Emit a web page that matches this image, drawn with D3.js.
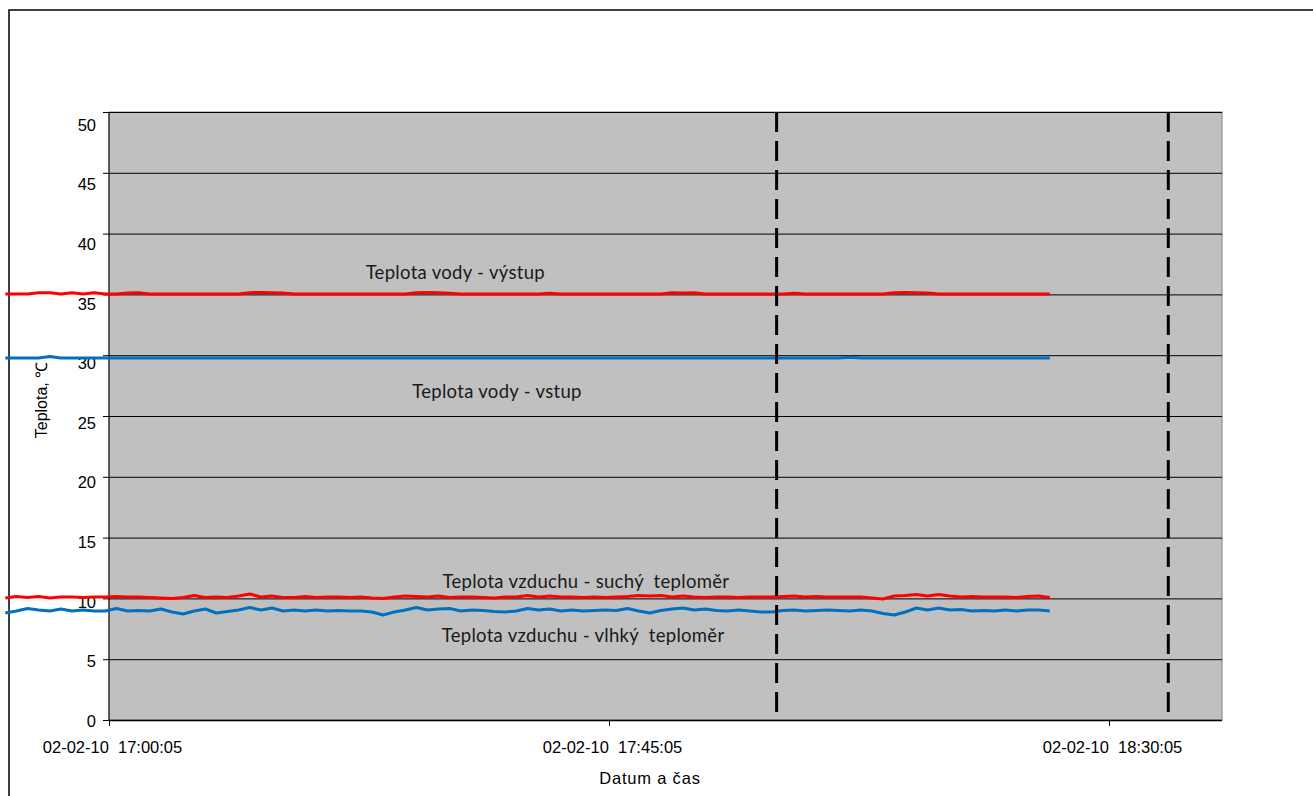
<!DOCTYPE html>
<html>
<head>
<meta charset="utf-8">
<script src="https://cdn.jsdelivr.net/npm/d3@7"></script>
<style>
  html, body { margin: 0; padding: 0; background: #fff; }
  svg { display: block; }
  .axis text { font-family: "Liberation Sans", Arial, sans-serif; fill: #000; }
  .note { font-family: Lato, "Open Sans", sans-serif; fill: #1a1a1a; }
</style>
</head>
<body>
<svg id="chart" width="1313" height="796"></svg>
<script>
// Measurement series, one sample per minute starting 02-02-10 16:50:45
const startTime = "2010-02-02T16:50:45";
const stepMinutes = 1;

// Teplota vody - výstup (°C)
const waterOut = [
  35.03, 35.03, 35.03, 35.14, 35.14, 35.03, 35.14, 35.03, 35.14, 35.03,
  35.03, 35.12, 35.14, 35.03, 35.03, 35.03, 35.03, 35.03, 35.03, 35.03,
  35.03, 35.03, 35.14, 35.16, 35.14, 35.12, 35.03, 35.03, 35.03, 35.03,
  35.03, 35.03, 35.03, 35.03, 35.03, 35.03, 35.03, 35.14, 35.16, 35.14,
  35.10, 35.03, 35.03, 35.03, 35.03, 35.03, 35.03, 35.03, 35.03, 35.10,
  35.03, 35.03, 35.03, 35.03, 35.03, 35.03, 35.03, 35.03, 35.03, 35.03,
  35.14, 35.12, 35.14, 35.03, 35.03, 35.03, 35.03, 35.03, 35.03, 35.03,
  35.03, 35.10, 35.03, 35.03, 35.03, 35.03, 35.03, 35.03, 35.03, 35.03,
  35.14, 35.16, 35.14, 35.12, 35.03, 35.03, 35.03, 35.03, 35.03, 35.03,
  35.03, 35.03, 35.03, 35.03, 35.03
];

// Teplota vody - vstup (°C)
const waterIn = [
  29.77, 29.77, 29.77, 29.77, 29.90, 29.77, 29.77, 29.77, 29.77, 29.77,
  29.77, 29.77, 29.77, 29.77, 29.77, 29.77, 29.77, 29.77, 29.77, 29.77,
  29.77, 29.77, 29.77, 29.77, 29.77, 29.77, 29.77, 29.77, 29.77, 29.77,
  29.77, 29.77, 29.77, 29.77, 29.77, 29.77, 29.77, 29.77, 29.77, 29.77,
  29.77, 29.77, 29.77, 29.77, 29.77, 29.77, 29.77, 29.77, 29.77, 29.77,
  29.77, 29.77, 29.77, 29.77, 29.77, 29.77, 29.77, 29.77, 29.77, 29.77,
  29.77, 29.77, 29.77, 29.77, 29.77, 29.77, 29.77, 29.77, 29.77, 29.77,
  29.77, 29.77, 29.77, 29.77, 29.77, 29.77, 29.83, 29.77, 29.77, 29.77,
  29.77, 29.77, 29.77, 29.77, 29.77, 29.77, 29.77, 29.77, 29.77, 29.77,
  29.77, 29.77, 29.77, 29.77, 29.77
];

// Teplota vzduchu - suchý teploměr (°C)
const airDry = [
  10.03, 10.16, 10.07, 10.16, 10.03, 10.12, 10.12, 10.07, 10.12, 10.12,
  10.16, 10.12, 10.12, 10.07, 10.03,  9.99, 10.07, 10.24, 10.07, 10.12,
  10.07, 10.20, 10.36, 10.12, 10.20, 10.07, 10.07, 10.16, 10.07, 10.12,
  10.12, 10.07, 10.12, 10.03,  9.99, 10.12, 10.20, 10.16, 10.12, 10.20,
  10.07, 10.12, 10.12, 10.07, 10.03, 10.12, 10.12, 10.24, 10.12, 10.20,
  10.12, 10.12, 10.07, 10.12, 10.07, 10.12, 10.16, 10.24, 10.20, 10.24,
  10.12, 10.20, 10.12, 10.07, 10.12, 10.12, 10.07, 10.12, 10.12, 10.12,
  10.16, 10.20, 10.12, 10.16, 10.12, 10.12, 10.12, 10.12, 10.03,  9.95,
  10.20, 10.24, 10.32, 10.20, 10.32, 10.20, 10.12, 10.16, 10.12, 10.12,
  10.12, 10.07, 10.16, 10.20, 10.07
];

// Teplota vzduchu - vlhký teploměr (°C)
const airWet = [
  8.80, 8.96, 9.17, 9.05, 8.96, 9.13, 8.96, 9.05, 8.96, 8.96,
  9.17, 8.96, 9.00, 8.96, 9.13, 8.88, 8.72, 8.96, 9.13, 8.80,
  8.92, 9.05, 9.25, 9.05, 9.21, 8.96, 9.05, 8.96, 9.05, 8.96,
  9.00, 8.96, 8.96, 8.88, 8.63, 8.88, 9.05, 9.25, 9.05, 9.13,
  9.17, 8.96, 9.05, 9.00, 8.92, 8.88, 8.96, 9.17, 9.05, 9.13,
  8.96, 9.05, 8.96, 9.00, 9.05, 9.00, 9.17, 8.96, 8.80, 9.00,
  9.13, 9.21, 9.05, 9.13, 9.00, 8.96, 9.05, 8.96, 8.88, 8.88,
  9.00, 9.05, 8.96, 9.00, 9.05, 9.00, 8.96, 9.05, 8.96, 8.76,
  8.63, 8.88, 9.21, 9.05, 9.21, 9.05, 9.09, 8.96, 9.00, 8.96,
  9.05, 8.96, 9.05, 9.05, 8.96
];

const seriesNames = [
  "Teplota vody - výstup",
  "Teplota vody - vstup",
  "Teplota vzduchu - suchý  teploměr",
  "Teplota vzduchu - vlhký  teploměr"
];
const seriesColors = ["#ff0000", "#0070c0", "#ff0000", "#0070c0"];

// Axis definitions
const xDomain = ["2010-02-02T17:00:05", "2010-02-02T18:40:15"];
const xTickTimes = ["2010-02-02T17:00:05", "2010-02-02T17:45:05", "2010-02-02T18:30:05"];
const yTicks = [0, 5, 10, 15, 20, 25, 30, 35, 40, 45, 50];
const markerTimes = ["2010-02-02T18:00:10", "2010-02-02T18:35:25"];

// Label anchors: [time, temperature]
const noteAnchors = [
  ["2010-02-02T17:31:15", 36.25],
  ["2010-02-02T17:35:00", 26.45],
  ["2010-02-02T17:43:00", 10.85],
  ["2010-02-02T17:42:45", 6.40]
];

const parse = s => new Date(s);
const t0 = parse(startTime);
const timeAt = i => new Date(t0.getTime() + i * stepMinutes * 60000);

const svg = d3.select("#chart");

const plot = { left: 109, right: 1222, top: 112, bottom: 720 };

const x = d3.scaleTime().domain(xDomain.map(parse)).range([plot.left, plot.right]);
const y = d3.scaleLinear().domain([0, 50]).range([plot.bottom, plot.top]);
// tick labels sit on a slightly compressed scale
const yLabel = d3.scaleLinear().domain([0, 50]).range([721, 125]);

// outer frame
svg.append("path")
  .attr("d", "M9,796V10H1313")
  .attr("fill", "none")
  .attr("stroke", "#000")
  .attr("stroke-width", 1.5);

// plot background
svg.append("rect")
  .attr("x", plot.left).attr("y", plot.top)
  .attr("width", plot.right - plot.left).attr("height", plot.bottom - plot.top)
  .attr("fill", "#c0c0c0")
  .attr("stroke", "#808080")
  .attr("stroke-width", 1);

// horizontal gridlines with outside ticks
const yGrid = svg.append("g")
  .attr("transform", `translate(${plot.left},0)`)
  .call(d3.axisLeft(y).tickValues(yTicks.filter(v => v > 0))
    .tickSize(-(plot.right - plot.left)).tickSizeOuter(0).tickFormat(""));
yGrid.select(".domain").remove();
yGrid.selectAll(".tick line").attr("stroke", "#000").attr("stroke-width", 1)
  .attr("x1", -6).attr("x2", plot.right - plot.left);

// y axis line
svg.append("g")
  .attr("transform", `translate(${plot.left},0)`)
  .call(d3.axisLeft(y).tickValues([0]).tickSize(6).tickSizeOuter(0).tickFormat(""))
  .call(g => g.select(".domain").attr("stroke", "#000").attr("d", `M0,${plot.bottom + 0.5}V${plot.top}`))
  .call(g => g.selectAll(".tick line").attr("stroke", "#000"));

// y tick labels
svg.append("g")
  .attr("class", "axis")
  .attr("transform", `translate(${plot.left},0)`)
  .call(d3.axisLeft(yLabel).tickValues(yTicks).tickSize(0).tickPadding(13))
  .call(g => g.select(".domain").remove())
  .call(g => g.selectAll("text").attr("font-size", 16.5));

// x axis
const fmt = d3.timeFormat("%d-%m-%y  %H:%M:%S");
svg.append("g")
  .attr("class", "axis")
  .attr("transform", `translate(0,${plot.bottom})`)
  .call(d3.axisBottom(x).tickValues(xTickTimes.map(parse)).tickSize(6).tickSizeOuter(0)
    .tickPadding(15).tickFormat(fmt))
  .call(g => g.select(".domain").attr("stroke", "#000").attr("stroke-width", 1.5)
    .attr("d", `M${plot.left},0.5H${plot.right}`))
  .call(g => g.selectAll(".tick line").attr("stroke", "#000"))
  .call(g => g.selectAll("text").attr("font-size", 16.5).style("white-space", "pre").attr("dx", 3));

// series lines
const allSeries = [waterOut, waterIn, airDry, airWet];
const line = d3.line()
  .x((d, i) => x(timeAt(i)))
  .y(d => y(d));

allSeries.forEach((vals, k) => {
  svg.append("path")
    .datum(vals)
    .attr("fill", "none")
    .attr("stroke", seriesColors[k])
    .attr("stroke-width", 3)
    .attr("stroke-linejoin", "round")
    .attr("d", line);
});

// vertical dashed markers
svg.selectAll(".marker")
  .data(markerTimes.map(parse))
  .join("line")
  .attr("class", "marker")
  .attr("x1", d => x(d)).attr("x2", d => x(d))
  .attr("y1", plot.top).attr("y2", plot.bottom)
  .attr("stroke", "#000")
  .attr("stroke-width", 3)
  .attr("stroke-dasharray", "20,9");

// series annotations
svg.selectAll(".note")
  .data(noteAnchors)
  .join("text")
  .attr("class", "note")
  .attr("x", d => x(parse(d[0])))
  .attr("y", d => y(d[1]))
  .attr("text-anchor", "middle")
  .attr("font-size", 18.5)
  .attr("letter-spacing", 0.3)
  .style("white-space", "pre")
  .text((d, i) => seriesNames[i]);

// axis titles
svg.append("text")
  .attr("transform", `translate(47,400) rotate(-90)`)
  .attr("text-anchor", "middle")
  .attr("font-family", "Liberation Sans, Arial, sans-serif")
  .attr("font-size", 16)
  .text("Teplota, ℃");

svg.append("text")
  .attr("x", 650).attr("y", 784)
  .attr("text-anchor", "middle")
  .attr("font-family", "Liberation Sans, Arial, sans-serif")
  .attr("font-size", 16.5)
  .attr("letter-spacing", 0.8)
  .text("Datum a čas");
</script>
</body>
</html>
